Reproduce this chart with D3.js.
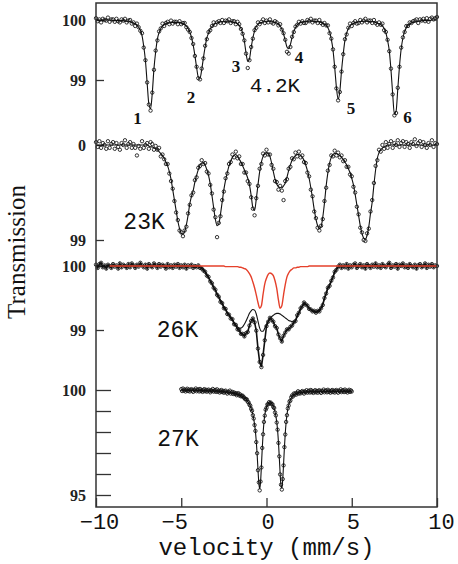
<!DOCTYPE html>
<html>
<head>
<meta charset="utf-8">
<script src="https://cdn.jsdelivr.net/npm/d3@7"></script>
<style>
  body { margin: 0; background: #fff; }
  svg { display: block; }
</style>
</head>
<body>
<svg width="458" height="564"></svg>
<script>
// velocity channels (mm/s)
const vel = d3.range(201).map(i => Math.round((-10 + i * 0.1) * 100) / 100);
const vel27 = d3.range(201).map(i => Math.round((-5 + i * 0.05) * 100) / 100);

// transmission (%), one row = 1 mm/s (0.5 mm/s for 27K)
const t42 = [
  100.03,99.98,100.01,99.96,100.02,100.00,99.99,100.04,99.97,100.01,
  100.01,99.97,100.02,99.98,99.96,100.01,99.99,100.02,99.96,99.99,
  100.00,99.94,99.96,99.90,99.94,99.88,99.82,99.78,99.54,99.33,
  98.96,98.59,98.49,98.79,99.17,99.49,99.66,99.81,99.86,99.94,
  99.90,99.95,99.97,99.93,99.99,99.94,99.97,99.97,99.93,99.98,
  99.93,99.95,99.95,99.88,99.84,99.80,99.70,99.60,99.40,99.22,
  99.03,99.01,99.19,99.36,99.57,99.68,99.80,99.83,99.90,99.96,
  99.92,99.96,99.98,99.95,100.00,99.95,99.99,99.98,100.01,99.95,
  99.98,99.98,99.93,99.97,99.93,99.85,99.77,99.66,99.44,99.20,
  99.33,99.55,99.69,99.83,99.87,99.96,99.93,99.97,100.01,99.95,
  99.99,99.96,100.01,99.96,99.94,99.98,99.96,99.91,99.93,99.84,
  99.78,99.67,99.47,99.44,99.55,99.72,99.80,99.89,99.92,99.97,
  99.94,99.98,99.95,99.95,100.00,99.98,100.02,99.96,99.99,99.99,
  99.95,100.00,99.95,99.92,99.95,99.91,99.91,99.78,99.69,99.51,
  99.22,98.86,98.66,98.80,99.14,99.43,99.68,99.76,99.87,99.94,
  99.90,99.95,99.98,99.94,99.95,100.00,99.96,99.99,100.02,99.96,
  99.99,99.99,99.95,100.00,99.95,99.92,99.96,99.92,99.94,99.83,
  99.80,99.67,99.48,99.19,98.76,98.41,98.45,98.87,99.22,99.54,
  99.71,99.80,99.90,99.90,99.96,99.95,99.98,99.99,100.01,99.95,
  100.01,99.99,100.02,99.98,100.03,99.97,100.02,100.04,100.01,100.03,
  100.05
];
const t42fit = [
  100.00,100.00,100.00,100.00,100.00,100.00,100.00,100.00,100.00,100.00,
  99.99,99.99,99.99,99.99,99.99,99.99,99.99,99.98,99.98,99.98,
  99.97,99.96,99.95,99.94,99.92,99.88,99.83,99.74,99.56,99.32,
  98.95,98.60,98.52,98.78,99.19,99.47,99.68,99.79,99.86,99.90,
  99.92,99.94,99.95,99.95,99.96,99.96,99.96,99.96,99.96,99.96,
  99.95,99.94,99.92,99.90,99.86,99.80,99.71,99.58,99.41,99.21,
  99.05,99.03,99.17,99.37,99.55,99.70,99.78,99.85,99.89,99.92,
  99.94,99.95,99.96,99.97,99.97,99.97,99.97,99.97,99.97,99.97,
  99.97,99.96,99.95,99.94,99.91,99.86,99.78,99.65,99.45,99.31,
  99.35,99.54,99.70,99.82,99.89,99.93,99.95,99.96,99.97,99.97,
  99.98,99.98,99.98,99.97,99.97,99.96,99.95,99.93,99.90,99.85,
  99.77,99.66,99.55,99.52,99.59,99.71,99.81,99.87,99.92,99.94,
  99.96,99.97,99.97,99.98,99.98,99.98,99.98,99.98,99.98,99.97,
  99.97,99.97,99.96,99.95,99.93,99.91,99.87,99.80,99.68,99.50,
  99.21,98.88,98.68,98.81,99.15,99.43,99.66,99.78,99.86,99.90,
  99.93,99.94,99.96,99.96,99.97,99.97,99.98,99.98,99.98,99.98,
  99.98,99.97,99.97,99.97,99.96,99.95,99.94,99.92,99.90,99.86,
  99.79,99.66,99.49,99.17,98.77,98.43,98.48,98.85,99.23,99.52,
  99.70,99.81,99.87,99.91,99.93,99.95,99.96,99.97,99.97,99.98,
  99.98,99.99,99.99,99.99,99.99,99.99,99.99,100.00,100.00,100.00,
  100.00
];

const t23 = [
  100.03,99.98,100.04,99.97,100.02,100.00,99.96,100.04,99.97,100.01,
  100.03,99.96,100.02,99.98,99.95,100.02,100.00,100.05,99.97,100.01,
  100.03,99.97,100.01,99.97,99.89,99.99,99.96,100.04,99.97,100.00,
  100.02,99.96,100.03,100.01,99.95,99.99,99.95,99.97,99.88,99.90,
  99.85,99.80,99.80,99.70,99.62,99.54,99.41,99.29,99.21,99.10,
  99.08,99.04,99.10,99.14,99.28,99.37,99.47,99.50,99.63,99.66,
  99.76,99.78,99.84,99.80,99.81,99.72,99.70,99.58,99.49,99.32,
  99.24,99.03,99.18,99.25,99.42,99.51,99.65,99.70,99.80,99.82,
  99.90,99.87,99.93,99.86,99.88,99.80,99.80,99.71,99.71,99.62,
  99.59,99.45,99.33,99.26,99.44,99.57,99.75,99.80,99.91,99.89,
  99.95,99.90,99.90,99.79,99.75,99.62,99.61,99.53,99.57,99.52,
  99.42,99.62,99.64,99.75,99.77,99.86,99.85,99.92,99.88,99.93,
  99.87,99.89,99.82,99.81,99.71,99.67,99.53,99.46,99.30,99.23,
  99.13,99.10,99.15,99.22,99.41,99.55,99.73,99.79,99.89,99.88,
  99.94,99.89,99.92,99.87,99.89,99.83,99.84,99.77,99.77,99.69,
  99.67,99.56,99.50,99.35,99.27,99.13,99.08,99.00,98.99,99.07,
  99.12,99.30,99.42,99.60,99.78,99.84,99.95,99.93,100.00,99.96,
  100.03,99.97,100.01,100.04,99.97,100.02,100.00,100.05,99.98,100.02,
  100.04,99.98,100.03,100.01,99.97,100.03,100.01,100.06,99.99,100.02,
  100.04,99.98,100.03,100.00,99.97,100.02,100.00,100.05,99.98,100.02,
  100.01
];
const t23fit = [
  100.00,100.00,100.00,100.00,100.00,100.00,100.00,100.00,100.00,100.00,
  100.00,100.00,100.00,100.00,100.00,100.00,100.00,100.00,100.00,100.00,
  100.00,100.00,100.00,100.00,100.00,100.00,100.00,100.00,100.00,100.00,
  100.00,99.99,99.98,99.98,99.97,99.96,99.95,99.93,99.91,99.89,
  99.86,99.82,99.78,99.72,99.64,99.53,99.42,99.31,99.20,99.12,
  99.07,99.06,99.09,99.16,99.26,99.38,99.46,99.52,99.61,99.68,
  99.74,99.79,99.81,99.81,99.79,99.74,99.68,99.59,99.47,99.34,
  99.22,99.15,99.17,99.27,99.40,99.53,99.63,99.71,99.78,99.83,
  99.87,99.89,99.90,99.88,99.85,99.82,99.78,99.74,99.70,99.65,
  99.58,99.47,99.34,99.31,99.43,99.58,99.72,99.82,99.88,99.91,
  99.92,99.91,99.88,99.81,99.72,99.64,99.59,99.56,99.55,99.55,
  99.57,99.60,99.66,99.73,99.79,99.84,99.87,99.89,99.90,99.90,
  99.89,99.87,99.84,99.79,99.73,99.65,99.55,99.44,99.32,99.22,
  99.15,99.12,99.14,99.24,99.39,99.57,99.71,99.81,99.87,99.90,
  99.91,99.91,99.90,99.89,99.87,99.85,99.82,99.79,99.75,99.71,
  99.65,99.58,99.48,99.37,99.26,99.15,99.07,99.02,99.01,99.05,
  99.14,99.28,99.40,99.58,99.74,99.86,99.92,99.95,99.97,99.98,
  99.99,100.00,100.00,100.00,100.00,100.00,100.00,100.00,100.00,100.00,
  100.00,100.00,100.00,100.00,100.00,100.00,100.00,100.00,100.00,100.00,
  100.00,100.00,100.00,100.00,100.00,100.00,100.00,100.00,100.00,100.00,
  100.00
];

const t26 = [
  100.02,99.97,100.03,100.05,99.98,100.01,99.96,100.02,100.00,99.97,
  100.03,99.99,100.01,99.96,100.04,99.98,100.02,100.00,99.97,100.03,
  99.98,100.04,100.01,99.97,100.02,99.99,100.05,100.01,99.98,100.02,
  99.96,100.03,100.00,99.98,100.04,100.01,99.97,100.03,99.99,100.02,
  100.00,99.96,100.03,99.98,100.01,99.97,100.02,99.99,100.03,99.97,
  100.01,99.98,100.02,99.96,100.01,99.99,100.02,99.97,100.00,99.98,
  100.01,99.97,99.96,99.93,99.91,99.85,99.83,99.76,99.73,99.66,
  99.63,99.55,99.52,99.44,99.42,99.34,99.33,99.25,99.24,99.18,
  99.17,99.09,99.08,99.01,99.00,98.94,98.94,98.90,98.95,98.97,
  99.07,99.14,99.18,99.12,98.99,98.71,98.50,98.42,98.61,98.84,
  99.06,99.13,99.19,99.16,99.13,99.06,99.03,98.93,98.87,98.82,
  98.91,98.96,99.01,99.01,99.05,99.07,99.12,99.14,99.23,99.27,
  99.34,99.37,99.43,99.40,99.38,99.33,99.32,99.29,99.30,99.27,
  99.30,99.29,99.34,99.39,99.50,99.57,99.66,99.69,99.77,99.82,
  99.91,99.94,99.99,100.02,99.97,100.01,99.98,100.03,99.96,100.01,
  99.98,100.02,100.04,99.97,100.00,100.03,99.98,100.01,99.96,100.03,
  100.00,99.97,100.02,99.99,100.04,99.98,100.01,99.97,100.03,100.00,
  99.98,100.02,100.05,99.97,100.01,99.99,100.03,99.96,100.02,100.00,
  100.04,99.98,100.01,99.97,100.03,100.00,99.98,100.02,99.96,100.01,
  100.03,99.98,100.00,100.04,99.97,100.02,99.99,100.03,99.98,100.01,
  100.00
];
const t26fit = [
  100.00,100.00,100.00,100.00,100.00,100.00,100.00,100.00,100.00,100.00,
  100.00,100.00,100.00,100.00,100.00,100.00,100.00,100.00,100.00,100.00,
  100.00,100.00,100.00,100.00,100.00,100.00,100.00,100.00,100.00,100.00,
  100.00,100.00,100.00,100.00,100.00,100.00,100.00,100.00,100.00,100.00,
  100.00,100.00,100.00,100.00,100.00,100.00,100.00,100.00,100.00,100.00,
  100.00,100.00,100.00,100.00,100.00,100.00,100.00,100.00,100.00,100.00,
  100.00,99.99,99.98,99.95,99.91,99.87,99.82,99.77,99.72,99.67,
  99.62,99.57,99.52,99.47,99.42,99.37,99.33,99.28,99.24,99.20,
  99.16,99.12,99.08,99.05,99.03,99.03,99.05,99.09,99.14,99.20,
  99.26,99.30,99.32,99.31,99.25,99.14,99.03,98.98,98.98,99.03,
  99.09,99.14,99.18,99.21,99.23,99.25,99.26,99.26,99.25,99.23,
  99.21,99.19,99.17,99.15,99.14,99.13,99.13,99.15,99.20,99.26,
  99.32,99.37,99.40,99.40,99.38,99.35,99.32,99.30,99.29,99.29,
  99.30,99.32,99.35,99.41,99.49,99.57,99.65,99.71,99.77,99.84,
  99.90,99.95,99.98,99.99,100.00,100.00,100.00,100.00,100.00,100.00,
  100.00,100.00,100.00,100.00,100.00,100.00,100.00,100.00,100.00,100.00,
  100.00,100.00,100.00,100.00,100.00,100.00,100.00,100.00,100.00,100.00,
  100.00,100.00,100.00,100.00,100.00,100.00,100.00,100.00,100.00,100.00,
  100.00,100.00,100.00,100.00,100.00,100.00,100.00,100.00,100.00,100.00,
  100.00,100.00,100.00,100.00,100.00,100.00,100.00,100.00,100.00,100.00,
  100.00
];
// paramagnetic doublet sub-spectrum at 26K (red)
const t26red = [
  100.00,100.00,100.00,100.00,100.00,100.00,100.00,100.00,100.00,100.00,
  100.00,100.00,100.00,100.00,100.00,100.00,100.00,100.00,100.00,100.00,
  100.00,100.00,100.00,100.00,100.00,100.00,100.00,100.00,100.00,100.00,
  100.00,100.00,100.00,100.00,100.00,100.00,100.00,100.00,100.00,100.00,
  100.00,100.00,100.00,100.00,100.00,100.00,100.00,100.00,100.00,100.00,
  100.00,100.00,100.00,100.00,100.00,100.00,100.00,100.00,100.00,100.00,
  100.00,100.00,100.00,100.00,100.00,100.00,100.00,100.00,100.00,100.00,
  100.00,100.00,100.00,100.00,100.00,100.00,99.99,99.99,99.99,99.99,
  99.99,99.99,99.99,99.99,99.98,99.98,99.97,99.96,99.95,99.92,
  99.88,99.83,99.75,99.66,99.55,99.43,99.34,99.38,99.56,99.72,
  99.81,99.87,99.89,99.88,99.85,99.77,99.65,99.47,99.34,99.38,
  99.55,99.71,99.83,99.89,99.93,99.95,99.97,99.97,99.98,99.98,
  99.99,99.99,99.99,99.99,99.99,100.00,100.00,100.00,100.00,100.00,
  100.00,100.00,100.00,100.00,100.00,100.00,100.00,100.00,100.00,100.00,
  100.00,100.00,100.00,100.00,100.00,100.00,100.00,100.00,100.00,100.00,
  100.00,100.00,100.00,100.00,100.00,100.00,100.00,100.00,100.00,100.00,
  100.00,100.00,100.00,100.00,100.00,100.00,100.00,100.00,100.00,100.00,
  100.00,100.00,100.00,100.00,100.00,100.00,100.00,100.00,100.00,100.00,
  100.00,100.00,100.00,100.00,100.00,100.00,100.00,100.00,100.00,100.00,
  100.00,100.00,100.00,100.00,100.00,100.00,100.00,100.00,100.00,100.00,
  100.00
];

const t27 = [
  100.04,99.95,100.07,99.97,100.02,99.93,100.00,100.06,99.95,100.02,
  99.93,100.00,100.04,99.97,99.91,100.01,99.98,100.07,99.94,100.00,
  100.03,99.93,100.05,99.95,100.00,99.91,99.98,100.04,99.94,100.01,
  99.92,99.98,100.02,99.95,99.89,99.99,99.96,100.05,99.92,99.97,
  100.00,99.91,100.03,99.92,99.97,99.88,99.94,100.00,99.90,99.96,
  99.87,99.93,99.97,99.89,99.83,99.92,99.89,99.97,99.83,99.89,
  99.91,99.81,99.88,99.81,99.85,99.75,99.81,99.85,99.74,99.79,
  99.70,99.72,99.73,99.65,99.64,99.56,99.56,99.55,99.44,99.41,
  99.30,99.25,99.10,99.01,98.80,98.64,98.33,98.05,97.52,96.99,
  96.18,95.60,95.22,95.64,96.31,97.24,97.89,98.48,98.78,99.06,
  99.15,99.31,99.32,99.42,99.37,99.40,99.33,99.32,99.19,99.14,
  98.93,98.79,98.45,98.11,97.48,96.84,95.98,95.49,95.26,95.76,
  96.41,97.28,97.88,98.48,98.80,99.12,99.26,99.45,99.50,99.65,
  99.74,99.69,99.83,99.78,99.85,99.78,99.86,99.94,99.83,99.90,
  99.84,99.91,99.95,99.89,99.83,99.93,99.91,99.99,99.87,99.93,
  99.97,99.88,100.00,99.90,99.95,99.86,99.93,99.99,99.89,99.96,
  99.87,99.95,99.99,99.92,99.86,99.96,99.93,100.02,99.89,99.95,
  99.98,99.89,100.01,99.91,99.96,99.87,99.94,100.00,99.90,99.97,
  99.88,99.96,100.00,99.93,99.87,99.97,99.94,100.03,99.90,99.96,
  99.99,99.90,100.02,99.92,99.97,99.88,99.95,100.01,99.91,99.98,
  99.93
];
const t27fit = [
  99.99,99.99,99.99,99.99,99.99,99.99,99.99,99.99,99.98,99.98,
  99.98,99.98,99.98,99.98,99.98,99.98,99.98,99.98,99.98,99.98,
  99.98,99.97,99.97,99.97,99.97,99.97,99.97,99.97,99.97,99.97,
  99.97,99.96,99.96,99.96,99.96,99.96,99.96,99.96,99.95,99.95,
  99.95,99.95,99.95,99.94,99.94,99.94,99.93,99.93,99.93,99.92,
  99.92,99.91,99.91,99.90,99.90,99.89,99.89,99.88,99.87,99.87,
  99.86,99.85,99.84,99.83,99.82,99.81,99.80,99.78,99.77,99.75,
  99.73,99.71,99.69,99.66,99.63,99.60,99.56,99.51,99.46,99.39,
  99.32,99.23,99.12,98.99,98.83,98.62,98.36,98.02,97.56,96.95,
  96.22,95.57,95.29,95.60,96.35,97.20,97.92,98.45,98.80,99.03,
  99.18,99.28,99.34,99.38,99.39,99.38,99.35,99.30,99.22,99.11,
  98.96,98.76,98.48,98.08,97.52,96.80,96.02,95.45,95.32,95.72,
  96.45,97.25,97.92,98.45,98.83,99.09,99.28,99.42,99.53,99.62,
  99.69,99.73,99.77,99.80,99.82,99.84,99.85,99.86,99.87,99.88,
  99.89,99.89,99.89,99.90,99.90,99.90,99.91,99.91,99.91,99.91,
  99.92,99.92,99.92,99.92,99.92,99.92,99.92,99.92,99.92,99.92,
  99.92,99.93,99.93,99.93,99.93,99.93,99.93,99.93,99.93,99.93,
  99.93,99.93,99.93,99.93,99.93,99.93,99.93,99.93,99.93,99.93,
  99.93,99.94,99.94,99.94,99.94,99.94,99.94,99.94,99.94,99.94,
  99.94,99.94,99.94,99.94,99.94,99.94,99.94,99.94,99.94,99.94,
  99.94
];

const xTicks = [-10, -5, 0, 5, 10];
const temps = ['4.2K', '23K', '26K', '27K'];
const lineNames = ['1', '2', '3', '4', '5', '6'];

const svg = d3.select('svg');
const x = d3.scaleLinear().domain([-10, 10]).range([96, 437]);

const panels = [
  { obs: t42, fit: t42fit, v: vel, y: d3.scaleLinear().domain([99, 100]).range([80, 20]),
    ticks: [99, 100], len: 8, fmt: { 100: '100', 99: '99' }, at: [0.5, 98.89], fs: 21 },
  { obs: t23, fit: t23fit, v: vel, y: d3.scaleLinear().domain([99, 100]).range([240, 145]),
    ticks: [99, 100], len: 8, fmt: { 100: '0', 99: '99' }, at: [-7.18, 99.18], fs: 23 },
  { obs: t26, fit: t26fit, v: vel, y: d3.scaleLinear().domain([99, 100]).range([330, 266]),
    ticks: [99, 100], len: 8, fmt: { 100: '100', 99: '99' }, at: [-5.22, 98.99], fs: 23, joined: true },
  { obs: t27, fit: t27fit, v: vel27, y: d3.scaleLinear().domain([95, 100]).range([495, 390]),
    ticks: [95, 96, 97, 98, 99, 100], len: 15, fmt: { 100: '100', 95: '95' }, at: [-5.19, 97.62], fs: 23 }
];

panels.forEach((p, k) => {
  const g = svg.append('g');

  const ax = g.append('g')
    .attr('transform', 'translate(96,0)')
    .call(d3.axisLeft(p.y).tickValues(p.ticks).tickSize(-p.len).tickPadding(10)
      .tickFormat(d => p.fmt[d] || ''));
  ax.select('.domain').remove();
  ax.selectAll('line').attr('stroke', '#333').attr('stroke-width', 1.3);
  ax.selectAll('text')
    .attr('font-family', 'Liberation Serif').attr('font-size', 16)
    .attr('font-weight', 'bold').attr('fill', '#222');

  const line = d3.line()
    .x((d, i) => x(p.v[i]))
    .y(d => p.y(d))
    .curve(d3.curveMonotoneX);

  // the 26K data trace is drawn as a joined band
  if (p.joined) {
    g.append('path')
      .datum(p.obs)
      .attr('d', d3.line().x((d, i) => x(p.v[i])).y(d => p.y(d)))
      .attr('fill', 'none')
      .attr('stroke', '#111')
      .attr('stroke-width', 1.6);
  }

  g.append('path')
    .datum(p.fit)
    .attr('d', line)
    .attr('fill', 'none')
    .attr('stroke', '#111')
    .attr('stroke-width', 1.1);

  g.selectAll('circle')
    .data(p.obs)
    .join('circle')
    .attr('cx', (d, i) => x(p.v[i]))
    .attr('cy', d => p.y(d))
    .attr('r', 1.7)
    .attr('fill', 'none')
    .attr('stroke', '#111')
    .attr('stroke-width', 0.85);

  if (k === 2) {
    const rv = vel.slice(8);
    const red = d3.line()
      .x((d, i) => x(rv[i]))
      .y(d => p.y(d))
      .curve(d3.curveMonotoneX);
    g.append('path')
      .datum(t26red.slice(8))
      .attr('d', red)
      .attr('fill', 'none')
      .attr('stroke', '#e5402b')
      .attr('stroke-width', 1.4);
  }

  g.append('text')
    .attr('x', x(p.at[0]))
    .attr('y', p.y(p.at[1]))
    .attr('text-anchor', 'middle')
    .attr('dominant-baseline', 'central')
    .attr('font-family', 'Liberation Mono')
    .attr('font-size', p.fs)
    .attr('fill', '#111')
    .text(temps[k]);
});

// sextet line numbers on the 4.2K spectrum
const numAt = [[-7.57, 98.36], [-4.43, 98.71], [-1.79, 99.23], [1.91, 99.37], [4.96, 98.53], [8.27, 98.37]];
svg.append('g')
  .selectAll('text')
  .data(lineNames)
  .join('text')
  .attr('x', (d, i) => x(numAt[i][0]))
  .attr('y', (d, i) => panels[0].y(numAt[i][1]))
  .attr('text-anchor', 'middle')
  .attr('dominant-baseline', 'central')
  .attr('font-family', 'Liberation Serif')
  .attr('font-weight', 'bold')
  .attr('font-size', 17)
  .attr('fill', '#111')
  .text(d => d);

// velocity axis
const shift = { '-10': 3, '-5': -7, '0': 1, '5': 1, '10': 4 };
const xa = svg.append('g')
  .attr('transform', 'translate(0,507)')
  .call(d3.axisBottom(x).tickValues(xTicks).tickSize(-9).tickPadding(6));
xa.select('.domain').remove();
xa.selectAll('line').attr('stroke', '#333').attr('stroke-width', 1.3);
xa.selectAll('text')
  .attr('font-family', 'Liberation Mono').attr('font-size', 22).attr('fill', '#111')
  .attr('dx', d => shift[d]);

svg.append('text')
  .attr('x', x(0))
  .attr('y', 555)
  .attr('text-anchor', 'middle')
  .attr('font-family', 'Liberation Mono')
  .attr('font-size', 24)
  .attr('fill', '#111')
  .text('velocity (mm/s)');

svg.append('text')
  .attr('transform', 'translate(25,252) rotate(-90)')
  .attr('text-anchor', 'middle')
  .attr('font-family', 'Liberation Serif')
  .attr('font-size', 25)
  .attr('fill', '#111')
  .text('Transmission');

// frame
svg.append('rect')
  .attr('x', 96).attr('y', 3)
  .attr('width', 341).attr('height', 504)
  .attr('fill', 'none')
  .attr('stroke', '#333')
  .attr('stroke-width', 1.5);
</script>
</body>
</html>
